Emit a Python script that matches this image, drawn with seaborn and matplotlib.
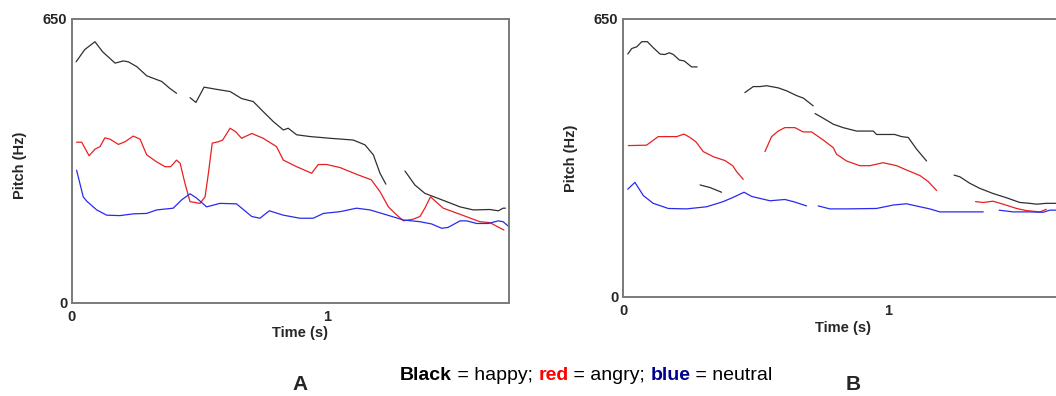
import numpy as np
import pandas as pd
import matplotlib
matplotlib.use("Agg")
import matplotlib.pyplot as plt
import seaborn as sns

# ---- pitch contours (time in s, F0 in Hz); each inner list is one voiced stretch ----
# Panel A
happy_a_t = [
    [0.016, 0.05, 0.09, 0.12, 0.169, 0.201, 0.221, 0.254, 0.293, 0.352, 0.384, 0.41],
    [0.463, 0.486, 0.518, 0.567, 0.62, 0.665, 0.711, 0.75, 0.79, 0.829, 0.848, 0.881,
     0.933, 1.012, 1.103, 1.149, 1.182, 1.208, 1.231],
    [1.306, 1.345, 1.384, 1.469, 1.522, 1.574, 1.639, 1.672, 1.691, 1.70],
]
happy_a_hz = [
    [552, 580, 598, 575, 549, 554, 552, 541, 520, 507, 491, 480],
    [470, 459, 494, 489, 484, 468, 461, 438, 415, 396, 400, 385,
     381, 377, 373, 362, 339, 297, 272],
    [302, 270, 251, 232, 220, 213, 214, 211, 217, 217],
]
angry_a_t = [
    [0.018, 0.038, 0.067, 0.09, 0.11, 0.129, 0.149, 0.182, 0.208, 0.24, 0.267, 0.293,
     0.332, 0.365, 0.387, 0.41, 0.424, 0.443, 0.463, 0.502, 0.522, 0.535, 0.55, 0.574,
     0.591, 0.62, 0.642, 0.665, 0.705, 0.75, 0.802, 0.829, 0.881, 0.94, 0.966, 0.999,
     1.051, 1.123, 1.174, 1.208, 1.241, 1.267, 1.3, 1.339, 1.365, 1.384, 1.406, 1.456,
     1.522, 1.6, 1.639, 1.694],
]
angry_a_hz = [
    [368, 368, 337, 352, 358, 378, 375, 363, 369, 382, 375, 339,
     323, 312, 312, 327, 320, 274, 232, 228, 243, 297, 366, 369,
     373, 400, 392, 377, 388, 377, 358, 327, 312, 297, 317, 317,
     310, 293, 282, 255, 220, 205, 188, 192, 198, 217, 243, 217,
     203, 186, 184, 167],
]
neutral_a_t = [
    [0.018, 0.044, 0.058, 0.097, 0.136, 0.188, 0.24, 0.293, 0.332, 0.397, 0.43, 0.463,
     0.489, 0.528, 0.58, 0.645, 0.705, 0.737, 0.774, 0.829, 0.894, 0.946, 0.986, 1.051,
     1.116, 1.169, 1.221, 1.3, 1.365, 1.41, 1.45, 1.475, 1.522, 1.548, 1.587, 1.633,
     1.672, 1.691, 1.711],
]
neutral_a_hz = [
    [304, 243, 233, 213, 201, 200, 204, 205, 213, 217, 236, 250,
     240, 220, 228, 227, 198, 194, 211, 201, 194, 194, 205, 209,
     217, 213, 204, 190, 186, 181, 171, 173, 188, 188, 182, 182,
     188, 186, 176],
]

# Panel B
happy_b_t = [
    [0.018, 0.033, 0.052, 0.071, 0.092, 0.114, 0.14, 0.158, 0.175, 0.19, 0.213, 0.231,
     0.259, 0.28],
    [0.291, 0.328, 0.372],
    [0.46, 0.492, 0.517, 0.542, 0.586, 0.618, 0.655, 0.681, 0.718],
    [0.725, 0.756, 0.794, 0.831, 0.882, 0.945, 0.957, 1.026, 1.052, 1.077, 1.108, 1.146],
    [1.25, 1.272, 1.309, 1.347, 1.397, 1.448, 1.498, 1.536, 1.561, 1.598, 1.634],
]
happy_b_hz = [
    [568, 581, 585, 597, 597, 583, 568, 567, 571, 567, 554, 552, 538, 538],
    [262, 256, 245],
    [478, 492, 492, 494, 489, 482, 471, 465, 447],
    [429, 418, 404, 396, 388, 388, 380, 380, 375, 373, 346, 318],
    [285, 281, 266, 254, 242, 232, 221, 219, 217, 219, 219],
]
angry_b_t = [
    [0.02, 0.089, 0.133, 0.203, 0.23, 0.253, 0.275, 0.303, 0.341, 0.385, 0.414, 0.429,
     0.454],
    [0.536, 0.561, 0.586, 0.611, 0.649, 0.68, 0.712, 0.756, 0.794, 0.806, 0.844, 0.894,
     0.932, 0.982, 1.033, 1.07, 1.121, 1.152, 1.184],
    [1.331, 1.36, 1.397, 1.435, 1.486, 1.523, 1.574, 1.598],
]
angry_b_hz = [
    [354, 355, 375, 375, 381, 373, 363, 340, 328, 319, 307, 293, 275],
    [340, 375, 388, 396, 396, 386, 386, 367, 349, 334, 318, 307,
     307, 314, 307, 297, 284, 270, 249],
    [223, 221, 224, 217, 207, 202, 199, 205],
]
neutral_b_t = [
    [0.018, 0.045, 0.077, 0.114, 0.171, 0.24, 0.316, 0.378, 0.416, 0.457, 0.486, 0.555,
     0.611, 0.643, 0.693],
    [0.737, 0.781, 0.844, 0.957, 1.02, 1.07, 1.121, 1.158, 1.196, 1.36],
    [1.42, 1.473, 1.536, 1.586, 1.611, 1.634],
]
neutral_b_hz = [
    [252, 268, 237, 219, 207, 206, 211, 223, 233, 245, 235, 225, 228, 223, 213],
    [213, 206, 206, 207, 215, 218, 211, 206, 199, 199],
    [203, 199, 199, 198, 203, 203],
]

x_ticks = [0, 1]
y_ticks = [0, 650]
x_max = 1.714
caption_parts = [("Black", "black", "bold"), (" = happy; ", "black", "normal"),
                 ("red", "#ff0000", "bold"), (" = angry; ", "black", "normal"),
                 ("blue", "#000090", "bold"), (" = neutral", "black", "normal")]
panel_letters = ["A", "B"]

emotion_colors = {"happy": "#303030", "angry": "#e82020", "neutral": "#2a2aee"}


def to_frame(emotion, t_segs, hz_segs):
    rows = []
    for k, (ts, hs) in enumerate(zip(t_segs, hz_segs)):
        for t, h in zip(ts, hs):
            rows.append({"emotion": emotion, "seg": f"{emotion}{k}", "t": t, "hz": h})
    return pd.DataFrame(rows)


panel_a = pd.concat([to_frame("happy", happy_a_t, happy_a_hz),
                     to_frame("angry", angry_a_t, angry_a_hz),
                     to_frame("neutral", neutral_a_t, neutral_a_hz)])
panel_b = pd.concat([to_frame("happy", happy_b_t, happy_b_hz),
                     to_frame("angry", angry_b_t, angry_b_hz),
                     to_frame("neutral", neutral_b_t, neutral_b_hz)])

sns.set_style("white")
plt.rcParams["font.family"] = ["Liberation Sans", "DejaVu Sans"]

fig = plt.figure(figsize=(10.56, 3.96), dpi=100)
ax_a = fig.add_axes([72 / 1056, 1 - 303 / 396, 437 / 1056, 284 / 396])
ax_b = fig.add_axes([623 / 1056, 1 - 297 / 396, 454 / 1056, 278 / 396])

spine_col = "#7a7a7a"
label_specs = [(ax_a, panel_a, (-0.103, 0.486), (0.522, -0.08)),
               (ax_b, panel_b, (-0.100, 0.50), (0.485, -0.085))]
for ax, df, ylab_pos, xlab_pos in label_specs:
    for emo, col in emotion_colors.items():
        sub = df[df["emotion"] == emo]
        sns.lineplot(data=sub, x="t", y="hz", units="seg", estimator=None,
                     color=col, linewidth=0.9, ax=ax, legend=False)
    ax.set_xlim(0, x_max)
    ax.set_ylim(0, 650)
    ax.set_xticks(x_ticks)
    ax.set_xticklabels([str(v) for v in x_ticks])
    ax.set_yticks(y_ticks)
    ax.set_yticklabels([str(v) for v in y_ticks])
    for sp in ax.spines.values():
        sp.set_color(spine_col)
        sp.set_linewidth(1.4)
        sp.set_visible(True)
    ax.tick_params(axis="both", direction="out", length=3, width=1, color=spine_col,
                   labelsize=10.5)
    ax.tick_params(axis="y", pad=0.5)
    ax.tick_params(axis="x", pad=2)
    for lab in ax.get_xticklabels() + ax.get_yticklabels():
        lab.set_fontweight("bold")
    ax.set_xlabel("Time (s)", fontsize=10.5, fontweight="bold")
    ax.set_ylabel("Pitch (Hz)", fontsize=10.5, fontweight="bold")
    ax.yaxis.set_label_coords(*ylab_pos)
    ax.xaxis.set_label_coords(*xlab_pos)
    ax.grid(False)

# caption built from coloured pieces placed one after another
narrow = ["Liberation Sans Narrow", "Liberation Sans", "DejaVu Sans"]
prev = fig.text(400 / 1056, 1 - 380 / 396, caption_parts[0][0], color=caption_parts[0][1],
                fontweight=caption_parts[0][2], fontsize=14, family=narrow,
                ha="left", va="baseline")
for txt, col, wt in caption_parts[1:]:
    prev = ax_a.annotate(txt, xy=(1, 0), xycoords=prev, xytext=(0, 0),
                         textcoords="offset points", color=col, fontweight=wt,
                         fontsize=14, family=narrow, ha="left", va="bottom",
                         annotation_clip=False)

for letter, xc in zip(panel_letters, [300, 853]):
    fig.text(xc / 1056, 1 - 385 / 396, letter, fontsize=15, fontweight="bold",
             family=narrow, ha="center", va="center")

fig.savefig("out.png", dpi=100)
